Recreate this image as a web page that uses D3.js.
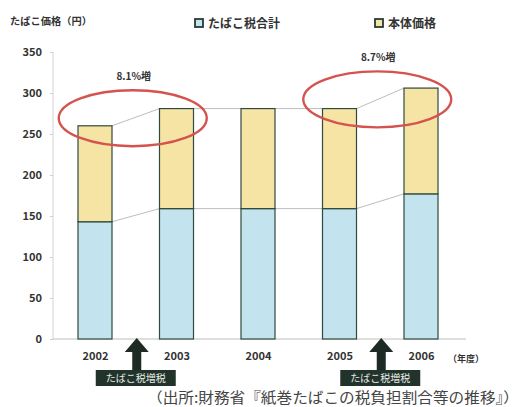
<!DOCTYPE html>
<html>
<head>
<meta charset="utf-8">
<script src="https://cdn.jsdelivr.net/npm/d3@7"></script>
<style>
  html, body { margin: 0; padding: 0; background: #fff; }
  svg { display: block; }
  text { font-family: "Noto Sans CJK JP", "Noto Sans", sans-serif; }
</style>
</head>
<body>
<script>
// Cigarette price breakdown by fiscal year (yen per pack)
const years = ["2002", "2003", "2004", "2005", "2006"];
const taxTotal = [143, 159, 159, 159, 177];     // たばこ税合計
const basePrice = [117, 122, 122, 122, 129];    // 本体価格
const yTicks = [0, 50, 100, 150, 200, 250, 300, 350];
const seriesNames = ["たばこ税合計", "本体価格"];
const increases = [
  { from: "2002", to: "2003", label: "8.1%増" },
  { from: "2005", to: "2006", label: "8.7%増" }
];
const taxHikes = [
  { after: "2002", before: "2003", label: "たばこ税増税" },
  { after: "2005", before: "2006", label: "たばこ税増税" }
];

const W = 522, H = 407;
const colTax = "#c3e4ee", colBase = "#f6e4a4", barStroke = "#2f4a3f";
const textCol = "#333";

const svg = d3.select("body").append("svg").attr("width", W).attr("height", H);

const x = d3.scalePoint().domain(years).range([95, 421]);
const y = d3.scaleLinear().domain([0, 350]).range([339, 52]);
const barW = 34;

const totals = years.map((d, i) => taxTotal[i] + basePrice[i]);

// axes
svg.append("line").attr("x1", 53).attr("x2", 53).attr("y1", y(350)).attr("y2", y(0))
  .attr("stroke", "#d4d4d4").attr("stroke-width", 1);
svg.append("line").attr("x1", 53).attr("x2", 466).attr("y1", y(0)).attr("y2", y(0))
  .attr("stroke", "#bdbdbd").attr("stroke-width", 1.2);

const yAxis = d3.axisLeft(y).tickValues(yTicks).tickSize(3).tickPadding(8);
const gy = svg.append("g").attr("transform", "translate(53,0)").call(yAxis);
gy.select(".domain").remove();
gy.selectAll(".tick line").attr("stroke", "#cfcfcf");
gy.selectAll(".tick text").attr("fill", textCol).attr("font-size", 11)
  .attr("font-weight", "bold").attr("font-family", "Noto Sans CJK JP");

// x-axis year labels
const xAxis = d3.axisBottom(x).tickSize(0).tickPadding(13);
const gx = svg.append("g").attr("transform", `translate(0,${y(0)})`).call(xAxis);
gx.select(".domain").remove();
gx.selectAll(".tick text").attr("fill", textCol).attr("font-size", 11)
  .attr("font-weight", "bold").attr("font-family", "Noto Sans CJK JP");
svg.append("text").attr("x", 448).attr("y", 362).attr("font-size", 9)
  .attr("fill", textCol).attr("font-weight", "bold").text("（年度）");

// connector lines between adjacent bars
const conn = svg.append("g").attr("stroke", "#bdbdbd").attr("stroke-width", 1);
for (let i = 0; i < years.length - 1; i++) {
  [totals, taxTotal].forEach(arr => {
    conn.append("line")
      .attr("x1", x(years[i]) + barW / 2).attr("y1", y(arr[i]))
      .attr("x2", x(years[i + 1]) - barW / 2).attr("y2", y(arr[i + 1]));
  });
}

// stacked bars
const bars = svg.append("g");
years.forEach((yr, i) => {
  bars.append("rect")
    .attr("x", x(yr) - barW / 2).attr("width", barW)
    .attr("y", y(taxTotal[i])).attr("height", y(0) - y(taxTotal[i]))
    .attr("fill", colTax).attr("stroke", barStroke).attr("stroke-width", 1.2);
  bars.append("rect")
    .attr("x", x(yr) - barW / 2).attr("width", barW)
    .attr("y", y(totals[i])).attr("height", y(taxTotal[i]) - y(totals[i]))
    .attr("fill", colBase).attr("stroke", barStroke).attr("stroke-width", 1.2);
});

// highlighted increases
increases.forEach(inc => {
  const i0 = years.indexOf(inc.from), i1 = years.indexOf(inc.to);
  const cx = (x(inc.from) + x(inc.to)) / 2 - 3;
  const cy = y((totals[i0] + totals[i1]) / 2) + 1;
  svg.append("ellipse").attr("cx", cx).attr("cy", cy).attr("rx", 74).attr("ry", 28)
    .attr("fill", "none").attr("stroke", "#d4534e").attr("stroke-width", 2.4);
  svg.append("text").attr("x", cx + 1).attr("y", cy - 38).attr("text-anchor", "middle")
    .attr("font-size", 10).attr("font-weight", "bold").attr("fill", textCol).text(inc.label);
});

// tax hike arrows
taxHikes.forEach(h => {
  const ax = (x(h.after) + x(h.before)) / 2 + 1;
  const top = y(0) - 1;
  const path = d3.path();
  path.moveTo(ax, top);
  path.lineTo(ax + 12, top + 14);
  path.lineTo(ax + 4.5, top + 14);
  path.lineTo(ax + 4.5, top + 32);
  path.lineTo(ax - 4.5, top + 32);
  path.lineTo(ax - 4.5, top + 14);
  path.lineTo(ax - 12, top + 14);
  path.closePath();
  svg.append("path").attr("d", path.toString()).attr("fill", "#1e2a24");
  svg.append("rect").attr("x", ax - 41).attr("y", 370).attr("width", 80).attr("height", 16)
    .attr("fill", "#22332b");
  svg.append("text").attr("x", ax - 1).attr("y", 382).attr("text-anchor", "middle")
    .attr("font-size", 10).attr("fill", "#e8ece8").text(h.label);
});

// y-axis title
svg.append("text").attr("x", 10).attr("y", 25).attr("font-size", 10)
  .attr("font-weight", "bold").attr("fill", textCol)
  .attr("textLength", 82).attr("lengthAdjust", "spacingAndGlyphs").text("たばこ価格（円）");

// legend
const legendX = [195, 375];
seriesNames.forEach((name, i) => {
  const g = svg.append("g").attr("transform", `translate(${legendX[i]},23)`);
  g.append("rect").attr("x", 0).attr("y", -4).attr("width", 8).attr("height", 8)
    .attr("fill", i === 0 ? colTax : colBase).attr("stroke", "#2a3a33").attr("stroke-width", 1.8);
  g.append("text").attr("x", 13).attr("y", 4.5).attr("font-size", 12)
    .attr("font-weight", "bold").attr("fill", textCol).text(name);
});

// source note
svg.append("text").attr("x", 147).attr("y", 403).attr("font-size", 14.5)
  .attr("fill", "#444").attr("textLength", 372).attr("lengthAdjust", "spacingAndGlyphs")
  .text("（出所:財務省『紙巻たばこの税負担割合等の推移』）");
</script>
</body>
</html>
